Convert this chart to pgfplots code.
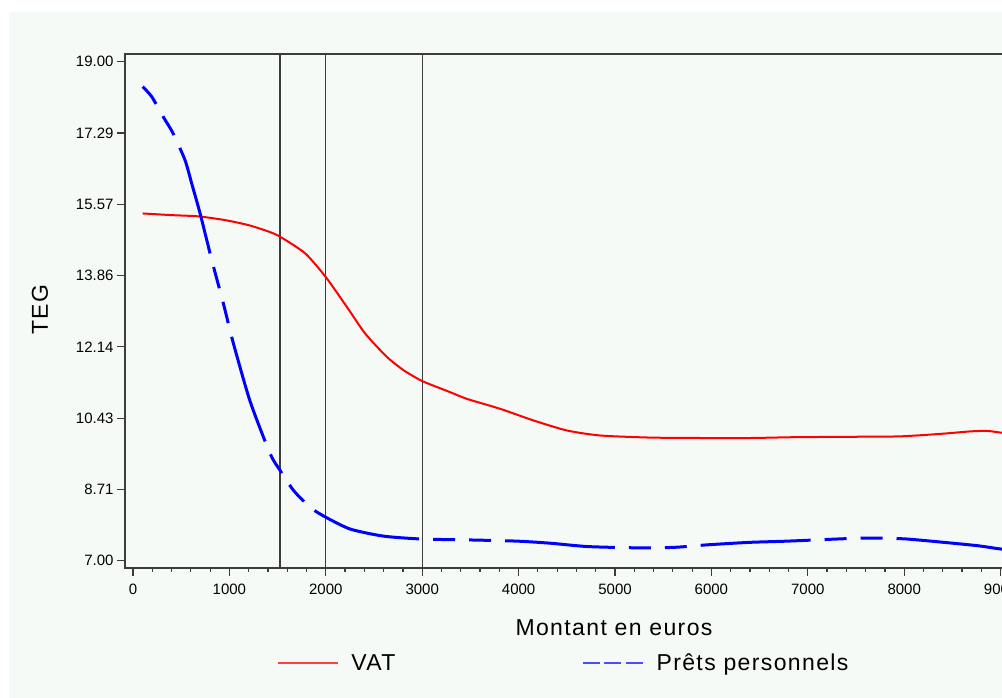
\documentclass[border=0pt]{standalone}
\usepackage{fontspec}
\setmainfont{Liberation Sans}
\usepackage{pgfplots}
\pgfplotsset{compat=1.18}
\definecolor{bgc}{RGB}{246,250,247}
\definecolor{framec}{RGB}{60,60,60}
\newcommand{\bigtxt}{\fontsize{23bp}{27bp}\selectfont\addfontfeatures{LetterSpace=6}}
\begin{document}
\begin{tikzpicture}[x=1bp,y=1bp]
\useasboundingbox (0,0) rectangle (1002,698);
\fill[white] (0,0) rectangle (1002,698);
\fill[bgc] (9,0) rectangle (1002,686);
\begin{scope}
\clip (0,0) rectangle (1002,698);
\begin{axis}[
  at={(125bp,130bp)}, anchor=south west,
  scale only axis, width=980bp, height=514bp,
  xmin=-83, xmax=10083, ymin=6.824, ymax=19.185,
  axis line style={framec, line width=1.5bp},
  tick style={framec, line width=1.2bp},
  tick align=outside,
  major tick length=8bp, minor tick length=4bp,
  xtick pos=bottom, ytick pos=left,
  scaled x ticks=false, scaled y ticks=false,
  xtick={0,1000,2000,3000,4000,5000,6000,7000,8000,9000,10000},
  xticklabels={0,1000,2000,3000,4000,5000,6000,7000,8000,9000,10000},
  minor x tick num=4,
  ytick={7,8.7143,10.4286,12.1429,13.8571,15.5714,17.2857,19},
  yticklabels={7.00,8.71,10.43,12.14,13.86,15.57,17.29,19.00},
  minor y tick num=1,
  /pgf/number format/assume math mode=true,
  tick label style={font=\fontsize{15bp}{17bp}\selectfont},
  xticklabel style={yshift=-5bp},
  xlabel={Montant en euros}, ylabel={TEG},
  label style={font=\bigtxt},
  xlabel style={at={(axis description cs:0.499,-0.1167)}, anchor=center},
  ylabel style={at={(axis description cs:-0.0867,0.502)}, anchor=center},
  legend columns=2,
  legend style={draw=none, fill=none, inner sep=0pt,
    at={(axis description cs:0.155,-0.1848)}, anchor=west,
    font=\bigtxt,
    /tikz/every even column/.append style={column sep=185bp},
    /tikz/every odd column/.append style={column sep=11bp}},
  legend image code/.code={\draw[#1] (0bp,0bp) -- (60bp,0bp);},
]
% reference lines
\addplot[forget plot, framec, line width=1.3bp] coordinates {(1524,6.824) (1524,19.185)};
\addplot[forget plot, framec, line width=1.3bp] coordinates {(2000,6.824) (2000,19.185)};
\addplot[forget plot, framec, line width=1.3bp] coordinates {(3000,6.824) (3000,19.185)};
% VAT
\addplot[forget plot, red, line width=2bp, smooth, tension=0.4] coordinates {
(100,15.35) (400,15.31) (678,15.28) (955,15.19) (1197,15.07) (1400,14.92)
(1526,14.79) (1786,14.39) (2000,13.82) (2219,13.10) (2409,12.46) (2634,11.90)
(2807,11.58) (3000,11.32) (3292,11.05) (3465,10.89) (3811,10.65) (4157,10.37)
(4503,10.13) (4849,10.01) (5369,9.96) (5900,9.95) (6407,9.95) (6874,9.97)
(7500,9.98) (7965,9.99) (8380,10.05) (8692,10.11) (8865,10.12) (9003,10.08) (9200,10.05)};
% Prets personnels
\addplot[forget plot, blue, line width=3bp, smooth, tension=0.4,
  dash pattern=on 22bp off 14bp on 22bp off 14bp on 110bp off 14bp] coordinates {
(100,18.40) (194,18.16) (312,17.68) (415,17.28) (540,16.63) (609,16.07) (696,15.35)
(817,14.23) (938,13.18) (1042,12.22) (1215,10.83) (1423,9.57) (1526,9.17)
(1665,8.69) (1838,8.28) (2004,8.04) (2253,7.76) (2599,7.59) (2998,7.52)
(3465,7.50) (3984,7.47) (4330,7.42) (4711,7.34) (5195,7.31) (5611,7.32)
(5950,7.38) (6390,7.44) (6788,7.47) (7515,7.54) (7791,7.54) (8034,7.52)
(8414,7.44) (8761,7.36) (9003,7.28) (9200,7.24)};
\addlegendimage{red!75, line width=1.2bp}
\addlegendentry{VAT}
\addlegendimage{blue!70, line width=1.2bp, dash pattern=on 17bp off 4.5bp}
\addlegendentry{Prêts personnels}
\end{axis}
\end{scope}
\end{tikzpicture}
\end{document}
